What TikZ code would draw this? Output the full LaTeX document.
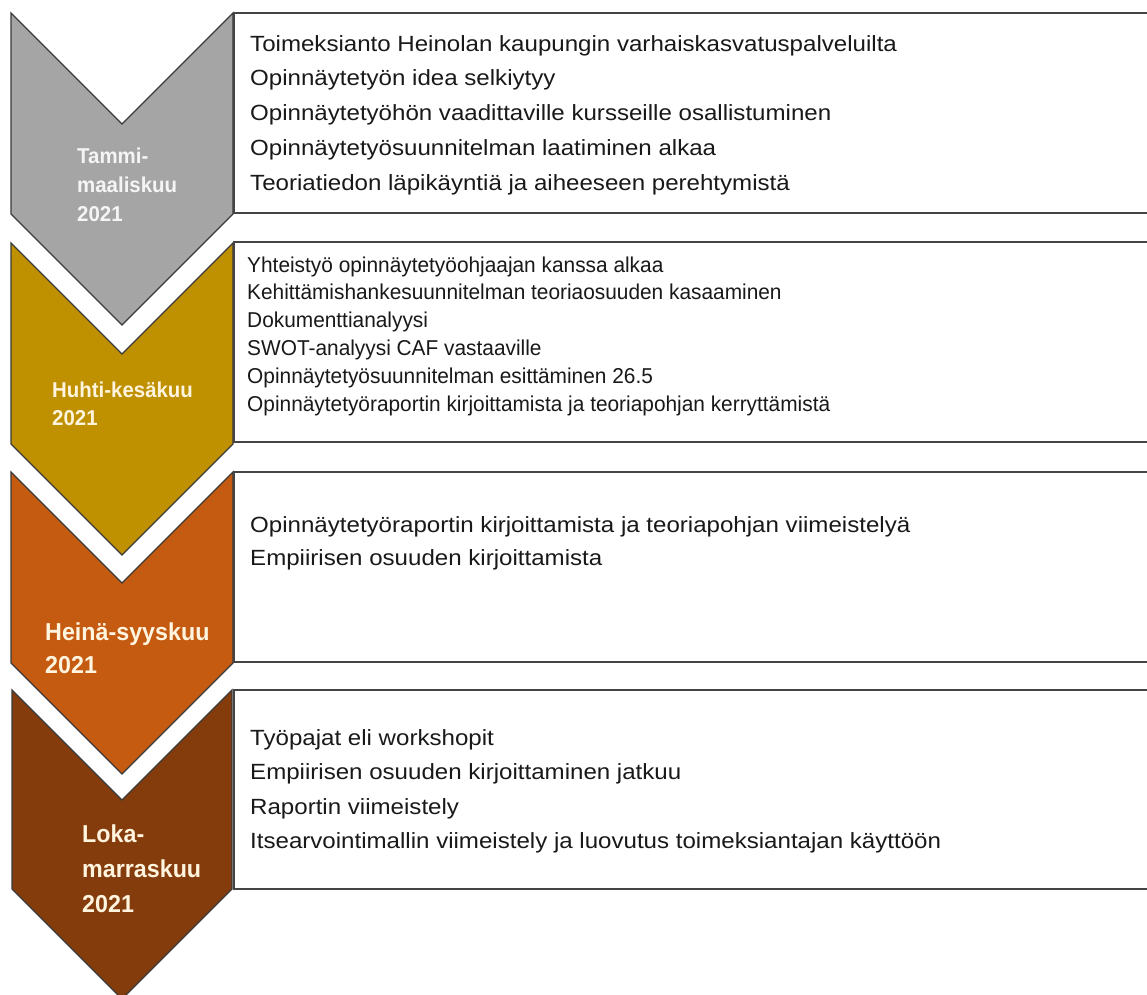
\documentclass[tikz,border=0pt]{standalone}
\usepackage{fontspec}
\setmainfont{Liberation Sans}[FakeStretch=1.095]
\newfontfamily\compactfont{Liberation Sans}[FakeStretch=0.97]
\newfontfamily\labelfont{Liberation Sans}[FakeStretch=0.95]
\definecolor{phaseA}{HTML}{A5A5A5}
\definecolor{phaseB}{HTML}{BF9000}
\definecolor{phaseC}{HTML}{C55A11}
\definecolor{phaseD}{HTML}{843C0C}
\definecolor{edge}{HTML}{3A3A3A}
\definecolor{frameline}{HTML}{444444}
\definecolor{cream}{HTML}{FFF4DE}
\begin{document}
\begin{tikzpicture}[x=1pt,y=-1pt,
  chevron/.style={draw=edge, line width=1.3pt, line join=miter},
  framebox/.style={draw=frameline, line width=2.2pt, fill=white},
  item/.style={anchor=base west, inner sep=0pt, text=black!90,
    font=\fontsize{22}{26}\selectfont},
  smallitem/.style={item, font=\compactfont\fontsize{21.5}{25}\selectfont},
  phasetext/.style={anchor=base west, inner sep=0pt, text=cream,
    font=\labelfont\bfseries\fontsize{21.5}{25}\selectfont},
  bigphasetext/.style={phasetext, font=\labelfont\bfseries\fontsize{24.5}{29}\selectfont}]
\useasboundingbox (0,0) rectangle (1147,994);
\fill[white] (0,0) rectangle (1147,994);

% chevrons, one per period
\draw[chevron, fill=phaseA] (11,13) -- (122,124) -- (233,13) -- (233,214) -- (122,325) -- (11,214) -- cycle;
\draw[chevron, fill=phaseB] (11,243) -- (122,354) -- (233,243) -- (233,444) -- (122,555) -- (11,444) -- cycle;
\draw[chevron, fill=phaseC] (11,472) -- (122,583) -- (233,472) -- (233,663) -- (122,774) -- (11,663) -- cycle;
\draw[chevron, fill=phaseD] (12,690) -- (122,800) -- (232,690) -- (232,889) -- (122,999) -- (12,889) -- cycle;

% activity frames, open past the right edge
\draw[framebox] (234,13) rectangle (1165,213);
\draw[framebox] (234,242) rectangle (1165,442);
\draw[framebox] (234,472) rectangle (1165,662);
\draw[framebox] (234,690) rectangle (1165,889);

% period labels
\node[phasetext, text=white!96!black] (pa1) at (77,163) {Tammi-};
\node[phasetext, text=white!96!black] (pa2) at (77,192) {maaliskuu};
\node[phasetext, text=white!96!black] (pa3) at (77,221) {2021};
\node[phasetext] (pb1) at (52,397) {Huhti-kesäkuu};
\node[phasetext] (pb2) at (52,425) {2021};
\node[bigphasetext] (pc1) at (45,640) {Heinä-syyskuu};
\node[bigphasetext] (pc2) at (45,673) {2021};
\node[bigphasetext] (pd1) at (82,842) {Loka-};
\node[bigphasetext] (pd2) at (82,877) {marraskuu};
\node[bigphasetext] (pd3) at (82,912) {2021};

% activities
\foreach \t [count=\i] in {Toimeksianto Heinolan kaupungin varhaiskasvatuspalveluilta,
    Opinnäytetyön idea selkiytyy,
    Opinnäytetyöhön vaadittaville kursseille osallistuminen,
    Opinnäytetyösuunnitelman laatiminen alkaa,
    Teoriatiedon läpikäyntiä ja aiheeseen perehtymistä}
  \node[item] (a\i) at (250,{51+34.75*(\i-1)}) {\t};

\foreach \t [count=\i] in {Yhteistyö opinnäytetyöohjaajan kanssa alkaa,
    Kehittämishankesuunnitelman teoriaosuuden kasaaminen,
    Dokumenttianalyysi,
    SWOT-analyysi CAF vastaaville,
    Opinnäytetyösuunnitelman esittäminen 26.5,
    Opinnäytetyöraportin kirjoittamista ja teoriapohjan kerryttämistä}
  \node[smallitem] (b\i) at (247,{272+27.8*(\i-1)}) {\t};

\foreach \t [count=\i] in {Opinnäytetyöraportin kirjoittamista ja teoriapohjan viimeistelyä,
    Empiirisen osuuden kirjoittamista}
  \node[item] (c\i) at (250,{532+33*(\i-1)}) {\t};

\foreach \t [count=\i] in {Työpajat eli workshopit,
    Empiirisen osuuden kirjoittaminen jatkuu,
    Raportin viimeistely,
    Itsearvointimallin viimeistely ja luovutus toimeksiantajan käyttöön}
  \node[item] (d\i) at (250,{745+34.5*(\i-1)}) {\t};
\end{tikzpicture}
\end{document}
